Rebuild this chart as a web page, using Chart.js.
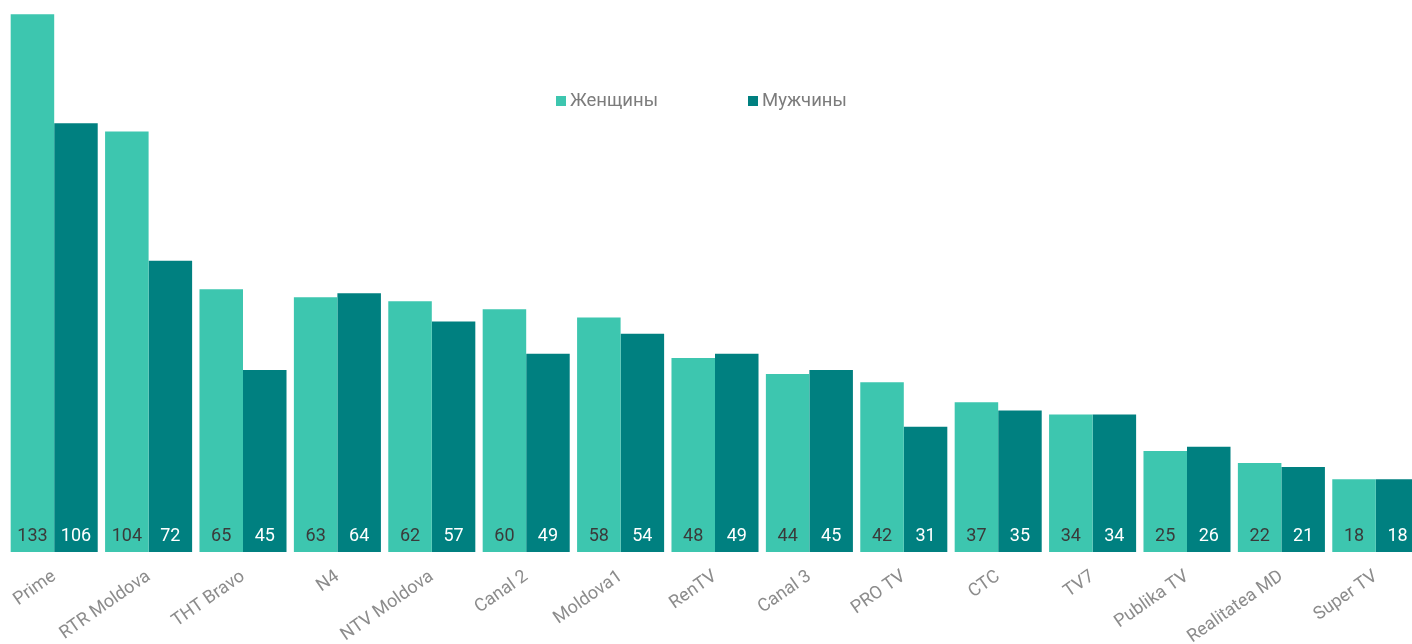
<!DOCTYPE html>
<html>
<head>
<meta charset="utf-8">
<script src="https://cdn.jsdelivr.net/npm/chart.js@4.4.0/dist/chart.umd.min.js"></script>
<style>
  html, body { margin: 0; padding: 0; background: #fff; overflow: hidden; }
  #wrap { width: 1424px; height: 644px; }
</style>
</head>
<body>
<div id="wrap"><canvas id="tvChart"></canvas></div>
<script>
// channels and audience counts
const channels = ['Prime', 'RTR Moldova', 'THT Bravo', 'N4', 'NTV Moldova', 'Canal 2', 'Moldova1',
  'RenTV', 'Canal 3', 'PRO TV', 'CTC', 'TV7', 'Publika TV', 'Realitatea MD', 'Super TV'];
const women = [133, 104, 65, 63, 62, 60, 58, 48, 44, 42, 37, 34, 25, 22, 18];
const men = [106, 72, 45, 64, 57, 49, 54, 49, 45, 31, 35, 34, 26, 21, 18];
const seriesNames = ['Женщины', 'Мужчины'];

const lightTeal = '#3dc6af';
const darkTeal = '#008080';

// numbers at the foot of each bar
const barValues = {
  id: 'barValues',
  afterDatasetsDraw(chart) {
    const c = chart.ctx;
    const bottom = chart.scales.y.bottom;
    c.save();
    c.font = '18px Roboto';
    c.textAlign = 'center';
    c.textBaseline = 'middle';
    chart.data.datasets.forEach((ds, i) => {
      c.fillStyle = i === 0 ? '#3a3a3a' : '#ffffff';
      chart.getDatasetMeta(i).data.forEach((bar, j) => {
        c.fillText(ds.data[j], bar.x, bottom - 16);
      });
    });
    c.restore();
  }
};

// legend drawn inside the plot
const innerLegend = {
  id: 'innerLegend',
  afterDraw(chart) {
    const c = chart.ctx;
    const spots = [556, 748];
    c.save();
    c.font = '18.5px Roboto';
    c.textBaseline = 'middle';
    chart.data.datasets.forEach((ds, i) => {
      c.fillStyle = ds.backgroundColor;
      c.fillRect(spots[i], 96, 10, 10);
      c.fillStyle = '#7c7c7c';
      c.fillText(ds.label, spots[i] + 14, 101);
    });
    c.restore();
  }
};

new Chart(document.getElementById('tvChart'), {
  type: 'bar',
  data: {
    labels: channels,
    datasets: [
      { label: seriesNames[0], data: women, backgroundColor: lightTeal },
      { label: seriesNames[1], data: men, backgroundColor: darkTeal }
    ]
  },
  options: {
    responsive: true,
    maintainAspectRatio: false,
    animation: false,
    layout: { padding: { left: 7, right: 1, top: 0, bottom: 0 } },
    datasets: { bar: { categoryPercentage: 0.922, barPercentage: 1.0 } },
    plugins: { legend: { display: false }, tooltip: { enabled: false } },
    scales: {
      x: {
        grid: { display: false },
        border: { display: false },
        ticks: {
          color: '#8c8c8c',
          font: { family: 'Roboto', size: 18 },
          minRotation: 35,
          maxRotation: 35,
          padding: 6,
          autoSkip: false
        },
        afterFit(scale) { scale.height = 92; }
      },
      y: {
        display: false,
        min: 0,
        max: 136.5
      }
    }
  },
  plugins: [barValues, innerLegend]
});
</script>
</body>
</html>
